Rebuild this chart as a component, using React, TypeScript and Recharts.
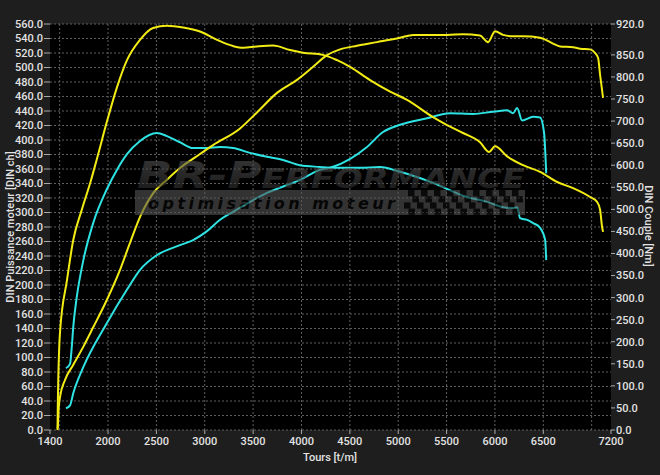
import { LineChart, Line, XAxis, YAxis, CartesianGrid, ReferenceLine } from 'recharts';

const YELLOW = '#f2ec14';
const CYAN = '#2ee3e3';
const GRID = '#5e5e5e';
const TEXT = '#e2e2e2';

// x axis
const rpmTicks = [1400, 2000, 2500, 3000, 3500, 4000, 4500, 5000, 5500, 6000, 6500, 7200];
const rpmGrid = [1500, 2000, 2500, 3000, 3500, 4000, 4500, 5000, 5500, 6000, 6500, 7000];

// left axis (ch) and right axis (Nm)
const powerTicks = [0, 20, 40, 60, 80, 100, 120, 140, 160, 180, 200, 220, 240, 260, 280, 300, 320, 340, 360, 380, 400, 420, 440, 460, 480, 500, 520, 540, 560];
const torqueTicks = [0, 50, 100, 150, 200, 250, 300, 350, 400, 450, 500, 550, 600, 650, 700, 750, 800, 850, 920];

// [rpm, value]
const tunedPower: [number, number][] = [
  [1480, 2], [1490, 30], [1503, 45], [1555, 69], [1641, 90], [1745, 115], [1848, 142], [1986, 179],
  [2124, 221], [2227, 258], [2331, 294], [2469, 327], [2607, 345], [2750, 362], [2900, 376], [3086, 393],
  [3365, 416], [3540, 438], [3747, 465], [3954, 483], [4120, 501], [4264, 517], [4399, 525], [4574, 530],
  [4781, 535], [5019, 541], [5154, 545], [5505, 545], [5670, 546], [5846, 544], [5929, 535], [6001, 550],
  [6084, 545], [6188, 543], [6291, 543], [6467, 541], [6601, 533], [6674, 529], [6808, 528], [6881, 526],
  [6984, 525], [7036, 520], [7067, 513], [7087, 490], [7118, 458],
];

const tunedTorque: [number, number][] = [
  [1478, 0], [1480, 45], [1503, 220], [1576, 340], [1640, 430], [1730, 500], [1824, 566], [1882, 612],
  [1990, 700], [2093, 777], [2196, 838], [2330, 884], [2465, 911], [2610, 916], [2776, 912], [2951, 903],
  [3127, 884], [3292, 870], [3396, 866], [3540, 869], [3706, 871], [3882, 861], [4016, 855], [4223, 850],
  [4368, 838], [4502, 823], [4709, 793], [4916, 767], [5091, 748], [5360, 709], [5505, 691], [5670, 673],
  [5846, 652], [5940, 630], [6001, 643], [6126, 620], [6291, 600], [6467, 585], [6643, 562], [6808, 548],
  [6984, 528], [7056, 517], [7087, 499], [7108, 460], [7118, 449],
];

const stockPower: [number, number][] = [
  [1565, 30], [1607, 34], [1641, 51], [1745, 87], [1986, 147], [2193, 193], [2331, 221], [2503, 241],
  [2744, 255], [2880, 262], [3020, 274], [3158, 290], [3292, 301], [3644, 327], [3985, 345], [4192, 359],
  [4326, 363], [4674, 390], [4843, 411], [5019, 421], [5298, 430], [5536, 437], [5774, 436], [5981, 439],
  [6126, 441], [6188, 437], [6229, 444], [6281, 427], [6395, 432], [6467, 431], [6508, 410], [6530, 354],
];

const stockTorque: [number, number][] = [
  [1565, 140], [1607, 150], [1624, 185], [1641, 235], [1676, 300], [1745, 385], [1848, 470], [1986, 545],
  [2093, 590], [2196, 625], [2331, 655], [2503, 673], [2610, 666], [2744, 652], [2880, 639], [3023, 639],
  [3158, 641], [3292, 639], [3468, 628], [3644, 619], [3810, 612], [3985, 600], [4192, 596], [4326, 594],
  [4605, 594], [4812, 596], [5019, 585], [5360, 560], [5712, 528], [5919, 517], [6084, 505], [6188, 503],
  [6229, 505], [6260, 480], [6333, 476], [6395, 469], [6467, 458], [6519, 431], [6530, 385],
];

const toPoints = (rows: [number, number][]) => rows.map(([rpm, v]) => ({ rpm, v }));

const tickStyle = { fill: TEXT, fontSize: 11, fontFamily: 'Roboto', fontWeight: 500 };

function Watermark() {
  const checks = [];
  for (let r = 0; r < 4; r++) {
    for (let c = 0; c < 18; c++) {
      if ((r + c) % 2 === 0) {
        checks.push(<rect key={`${r}-${c}`} x={408 + c * 6.5 - r * 2} y={190 + r * 6.2} width={6.5} height={6.2} fill="#111" />);
      }
    }
  }
  return (
    <svg width={660} height={475} style={{ position: 'absolute', left: 0, top: 0, pointerEvents: 'none' }}>
      <defs>
        <linearGradient id="wm" x1="0" y1="0" x2="0" y2="1">
          <stop offset="0%" stopColor="#5c5c5c" />
          <stop offset="100%" stopColor="#262626" />
        </linearGradient>
      </defs>
      <g opacity={0.6}>
        <rect x={135} y={190} width={390} height={25} fill="#555" />
        {checks}
        <text x={148} y={209} fontFamily="DejaVu Sans" fontWeight="bold" fontStyle="italic" fontSize={16} fill="#0a0a0a" textLength={247} lengthAdjust="spacing">optimisation moteur</text>
        <text x={137} y={188} fontFamily="DejaVu Sans" fontWeight="bold" fontStyle="italic" fill="url(#wm)" textLength={388} lengthAdjust="spacingAndGlyphs">
          <tspan fontSize={37}>BR-P</tspan>
          <tspan fontSize={27}>ERFORMANCE</tspan>
        </text>
      </g>
      <text transform="translate(11,227) rotate(-90)" textAnchor="middle" dominantBaseline="middle" fill={TEXT} fontSize={11} fontFamily="Roboto" fontWeight={500}>DIN Puissance moteur [DIN ch]</text>
      <text transform="translate(648,226) rotate(90)" textAnchor="middle" dominantBaseline="middle" fill={TEXT} fontSize={11} fontFamily="Roboto" fontWeight={500}>DIN Couple [Nm]</text>
      <text x={330} y={458} textAnchor="middle" dominantBaseline="middle" fill={TEXT} fontSize={11} fontFamily="Roboto" fontWeight={500}>Tours [t/m]</text>
    </svg>
  );
}

export default function App() {
  return (
    <div style={{ position: 'relative', width: 660, height: 475, background: '#1e1e1e' }}>
      <style>{'body{margin:0}'}</style>
      <LineChart width={660} height={475} margin={{ top: 24, right: 0, bottom: 0, left: 0 }}>
        <CartesianGrid yAxisId="left" fill="#000" stroke={GRID} strokeDasharray="2 2" vertical={false} />
        {rpmGrid.map((x) => (
          <ReferenceLine key={x} x={x} yAxisId="left" stroke={GRID} strokeDasharray="2 2" />
        ))}
        <XAxis
          dataKey="rpm"
          type="number"
          domain={[1400, 7200]}
          ticks={rpmTicks}
          interval={0}
          allowDataOverflow
          height={45}
          axisLine={false}
          tickLine={{ stroke: '#aaa' }}
          tickSize={4}
          tickMargin={3}
          tick={tickStyle}
        />
        <YAxis
          yAxisId="left"
          domain={[0, 560]}
          ticks={powerTicks}
          interval={0}
          width={50}
          axisLine={false}
          tickLine={{ stroke: '#aaa' }}
          tickSize={6}
          tickMargin={1}
          tick={tickStyle}
          tickFormatter={(v: number) => v.toFixed(1)}
        />
        <YAxis
          yAxisId="right"
          orientation="right"
          domain={[0, 920]}
          ticks={torqueTicks}
          interval={0}
          width={49}
          axisLine={false}
          tickLine={{ stroke: '#aaa' }}
          tickSize={4}
          tickMargin={1}
          tick={tickStyle}
          tickFormatter={(v: number) => v.toFixed(1)}
        />
        <Line yAxisId="right" data={toPoints(stockTorque)} dataKey="v" type="monotone" stroke={CYAN} strokeWidth={2} dot={false} isAnimationActive={false} />
        <Line yAxisId="left" data={toPoints(stockPower)} dataKey="v" type="monotone" stroke={CYAN} strokeWidth={2} dot={false} isAnimationActive={false} />
        <Line yAxisId="right" data={toPoints(tunedTorque)} dataKey="v" type="monotone" stroke={YELLOW} strokeWidth={2} dot={false} isAnimationActive={false} />
        <Line yAxisId="left" data={toPoints(tunedPower)} dataKey="v" type="monotone" stroke={YELLOW} strokeWidth={2} dot={false} isAnimationActive={false} />
      </LineChart>
      <Watermark />
    </div>
  );
}
